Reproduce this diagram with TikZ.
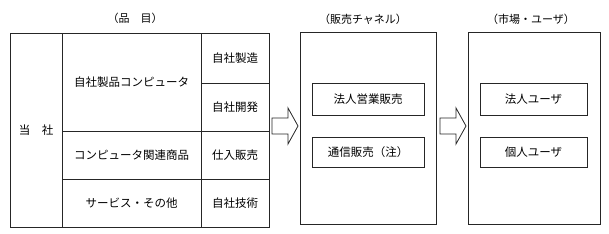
\documentclass[tikz,border=0pt]{standalone}
\usepackage{fontspec}
\newfontfamily\jp{Noto Sans CJK JP}
\begin{document}
\begin{tikzpicture}[x=1pt,y=-1pt,
  cell/.style={draw=black!85, line width=0.8pt, inner sep=0pt, outer sep=0pt, anchor=north west,
    font=\jp\fontsize{11.5}{14}\selectfont},
  title/.style={inner sep=0pt, font=\jp\fontsize{11}{13}\selectfont},
  blockarrow/.style={draw=black!85, line width=0.8pt, fill=white, line join=miter}]
\useasboundingbox (0,0) rectangle (609,233);
% left table
\node[cell, minimum width=52pt, minimum height=194pt] (tosha) at (10,33) {当　社};
\node[cell, minimum width=139pt, minimum height=98pt] (jisei) at (62,33) {自社製品コンピュータ};
\node[cell, minimum width=139pt, minimum height=48pt] (kanren) at (62,131) {コンピュータ関連商品};
\node[cell, minimum width=139pt, minimum height=48pt] (service) at (62,179) {サービス・その他};
\node[cell, minimum width=68pt, minimum height=50pt] (seizo) at (201,33) {自社製造};
\node[cell, minimum width=68pt, minimum height=48pt] (kaihatsu) at (201,83) {自社開発};
\node[cell, minimum width=68pt, minimum height=48pt] (shiire) at (201,131) {仕入販売};
\node[cell, minimum width=68pt, minimum height=48pt] (gijutsu) at (201,179) {自社技術};
\node[title] (t1) at (135,18) {（品　目）};
% middle
\node[cell, minimum width=136pt, minimum height=192pt] (channel) at (300,32) {};
\node[cell, minimum width=112pt, minimum height=32pt] (hojin) at (312,83) {法人営業販売};
\node[cell, minimum width=112pt, minimum height=30pt] (tsushin) at (312,137) {通信販売（注）};
\node[title] (t2) at (363,19) {（販売チャネル）};
% right
\node[cell, minimum width=132pt, minimum height=192pt] (market) at (468,32) {};
\node[cell, minimum width=107pt, minimum height=32pt] (hojinuser) at (480,83) {法人ユーザ};
\node[cell, minimum width=107pt, minimum height=30pt] (kojinuser) at (480,137) {個人ユーザ};
\node[title] (t3) at (531,19) {（市場・ユーザ）};
% block arrows
\draw[blockarrow] (272,118) -- (288,118) -- (288,108) -- (298,126) -- (288,144) -- (288,134) -- (272,134) -- cycle;
\draw[blockarrow] (440,118) -- (456,118) -- (456,108) -- (466,126) -- (456,144) -- (456,134) -- (440,134) -- cycle;
\end{tikzpicture}
\end{document}
